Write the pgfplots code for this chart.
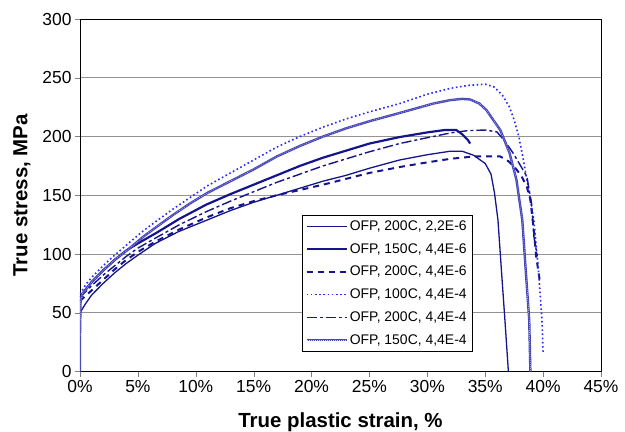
\documentclass[border=0pt]{standalone}
\usepackage{fontspec}
\setmainfont{Liberation Sans}
\usepackage{pgfplots}
\pgfplotsset{compat=1.18}
\definecolor{navy}{RGB}{20,20,140}
\definecolor{brightblue}{RGB}{40,40,255}
\definecolor{hatchblue}{RGB}{70,70,185}
\begin{document}
\begin{tikzpicture}
\begin{axis}[
  name=ax,
  scale only axis,
  width=521bp, height=352.5bp,
  xmin=0, xmax=45, ymin=0, ymax=300,
  xtick={0,5,...,45},
  xticklabels={0\%,5\%,10\%,15\%,20\%,25\%,30\%,35\%,40\%,45\%},
  ytick={0,50,...,300},
  yticklabels={0,50,100,150,200,250,300},
  tick label style={font=\fontsize{17.5}{20}\selectfont},
  tick align=outside,
  major tick length=5bp,
  xtick pos=bottom, ytick pos=left,
  ymajorgrids,
  grid style={draw=gray!85, line width=0.8pt},
  axis line style={line width=0.8pt},
  xlabel={\textbf{True plastic strain, \%}},
  ylabel={\textbf{True stress, MPa}},
  label style={font=\fontsize{20.5}{24}\selectfont},
  xlabel style={yshift=-13bp},
  ylabel style={yshift=5bp},
  legend cell align=left,
  legend style={at={(0.4255,0.444)}, anchor=north west,
    font=\fontsize{14}{16}\selectfont, draw=black, line width=0.6pt,
    inner xsep=3.5bp, inner ysep=3.5bp, row sep=7.5bp,
    /tikz/every even column/.append style={column sep=2bp}},
  legend image code/.code={\draw[#1] (0bp,0bp) -- (40bp,0bp);},
]
% OFP, 200C, 2,2E-6
\addplot[navy, line width=1.3pt] coordinates {
(0,50)(0.5,58)(1,65)(2,75)(3,84)(4,92)(5,99)(6.5,109)(8.5,119)(11,129)(13,137)(15,144)(17,150)(19,156)(21,162)(23,167)(25,173)(27.6,180)(30,184.5)(32,187.5)(33,187.5)(34,184)(35,177)(35.5,168)(35.8,152)(36.1,129)(36.4,86)(36.7,44)(37,0)};
\addlegendentry{OFP, 200C, 2,2E-6}
% OFP, 150C, 4,4E-6
\addplot[navy, line width=2.2pt] coordinates {
(0,63)(0.5,70)(1,76)(2,86)(3,95)(4,103)(5,109)(6.6,118)(8.6,130)(10.9,142)(13,151)(15,159)(17,167)(19,175)(21,182)(23,188)(25,194)(27.6,199.5)(30,203.5)(31.5,205.5)(32.5,205.5)(33,202)(33.5,197)(33.7,194)};
\addlegendentry{OFP, 150C, 4,4E-6}
% OFP, 200C, 4,4E-6
\addplot[navy, line width=2pt, dash pattern=on 6bp off 5bp] coordinates {
(0,60)(1,69)(2,78)(3,87)(4,95)(5.2,103)(6.6,111)(8.6,121)(10.9,131)(13,139)(15,145)(17,150)(19,154.5)(21,159)(23,164)(25,169)(27.6,174)(30,178)(32,181)(34,183)(36.3,183)(37,179)(37.7,172)(38.2,165)(38.6,157)(38.9,146)(39.2,120)(39.4,98)(39.7,78)};
\addlegendentry{OFP, 200C, 4,4E-6}
% OFP, 100C, 4,4E-4
\addplot[brightblue, line width=1.6pt, dash pattern=on 1.6bp off 2.6bp] coordinates {
(0,66)(0.5,74)(1,80)(2,90)(3,99)(4.3,110)(5.5,120)(6.6,128)(8,138)(9.5,148)(11,158)(13,169)(15,180)(17,191)(19,200)(21,208)(23,215)(25,221)(27.6,228)(30,236)(32,241)(33.5,243.5)(35,244.5)(35.8,242)(36.5,235)(37.1,225)(37.5,214)(37.9,200)(38.3,180)(38.6,163)(39.2,129)(39.6,86)(39.9,44)(40,16)};
\addlegendentry{OFP, 100C, 4,4E-4}
% OFP, 200C, 4,4E-4
\addplot[navy, line width=1.4pt, dash pattern=on 10bp off 3bp on 3bp off 3bp] coordinates {
(0,63)(1,73)(2,82)(3,90)(4,98)(5,105)(6.6,114)(8.6,125)(10.9,136)(13,145)(15,153)(17,161)(19,168)(21,175)(23,181)(25,187)(27.6,194)(30,199)(32,203)(33.5,205)(35,205.5)(36,204)(36.7,196)(37.4,186)(38,176)(38.6,166)(39,143)(39.2,115)(39.5,98)};
\addlegendentry{OFP, 200C, 4,4E-4}
% OFP, 150C, 4,4E-4
\addplot[hatchblue, line width=2.4pt,
  postaction={draw=white!80!hatchblue, line width=0.5pt, dash pattern=on 0.6bp off 1.4bp}] coordinates {
(0,0)(0,30)(0.05,60)(0.2,66)(1,76)(2,86)(3,95)(4.3,105)(5.5,115)(6.6,123)(8,133)(9.5,143)(11,152)(13,162)(15,172)(17,183)(19,192)(21,200)(23,207)(25,213)(27.6,220)(30.5,228)(32,231)(33,232)(33.7,231.5)(34.5,228)(35.1,222.5)(35.7,214)(36.3,205.5)(37.1,186)(37.7,163)(38.2,129)(38.5,86)(38.8,44)(38.9,0)};
\addlegendentry{OFP, 150C, 4,4E-4}
\end{axis}
\pgfresetboundingbox
\path[use as bounding box] (ax.south west) ++(-80bp,-60.5bp) rectangle ++(625bp,432bp);
\end{tikzpicture}
\end{document}
